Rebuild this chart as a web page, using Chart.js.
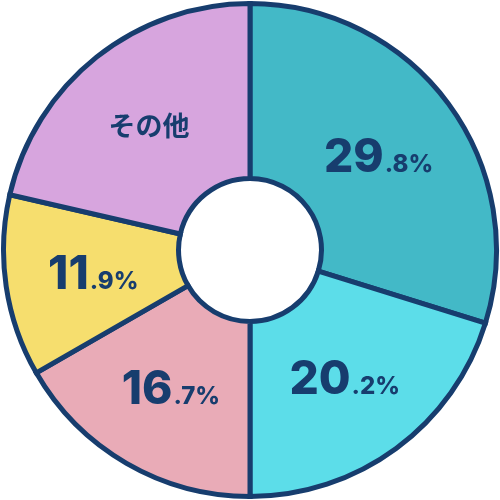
<!DOCTYPE html>
<html>
<head>
<meta charset="utf-8">
<script src="https://cdn.jsdelivr.net/npm/chart.js@4/dist/chart.umd.min.js"></script>
<style>
  html, body { margin: 0; padding: 0; background: #fff; }
  #wrap { width: 500px; height: 500px; }
</style>
</head>
<body>
<div id="wrap"><canvas id="pie"></canvas></div>
<script>
const labels = ['A', 'B', 'C', 'D', 'その他'];
const shares = [29.8, 20.2, 16.7, 11.9, 21.4];
const colors = ['#43b9c7', '#5cdde9', '#e9abb7', '#f6de6e', '#d7a5de'];
const navy = '#173d6e';

// draws "29" big and ".8%" small, or plain text for その他
const sliceText = {
    id: 'sliceText',
    afterDatasetsDraw(chart) {
        const ctx = chart.ctx;
        const arcs = chart.getDatasetMeta(0).data;
        ctx.save();
        ctx.fillStyle = navy;
        ctx.textBaseline = 'alphabetic';
        for (let i = 0; i < arcs.length; i++) {
            const p = arcs[i].tooltipPosition();
            if (labels[i] === 'その他') {
                ctx.font = 'bold 27px "Noto Sans CJK JP"';
                ctx.textAlign = 'center';
                ctx.textBaseline = 'middle';
                ctx.fillText(labels[i], p.x - 2, p.y);
                ctx.textBaseline = 'alphabetic';
                continue;
            }
            const txt = shares[i].toFixed(1);
            const big = txt.split('.')[0];
            const small = '.' + txt.split('.')[1] + '%';
            const bigFont = '800 46px "Inter"';
            const smallFont = '800 24px "Inter"';
            ctx.font = bigFont;
            const w1 = ctx.measureText(big).width;
            ctx.font = smallFont;
            const w2 = ctx.measureText(small).width;
            let x = p.x - (w1 + w2) / 2;
            const base = p.y + 16;
            ctx.textAlign = 'left';
            ctx.font = bigFont;
            ctx.fillText(big, x, base);
            ctx.font = smallFont;
            ctx.fillText(small, x + w1 + 1, base);
        }
        ctx.restore();
    }
};

new Chart(document.getElementById('pie'), {
    type: 'doughnut',
    data: {
        labels: labels,
        datasets: [{
            data: shares,
            backgroundColor: colors,
            borderColor: navy,
            borderWidth: 5,
            borderJoinStyle: 'miter'
        }]
    },
    options: {
        responsive: true,
        maintainAspectRatio: false,
        animation: false,
        cutout: '29%',
        layout: { padding: 1 },
        plugins: {
            legend: { display: false },
            tooltip: { enabled: false }
        }
    },
    plugins: [sliceText]
});
</script>
</body>
</html>
